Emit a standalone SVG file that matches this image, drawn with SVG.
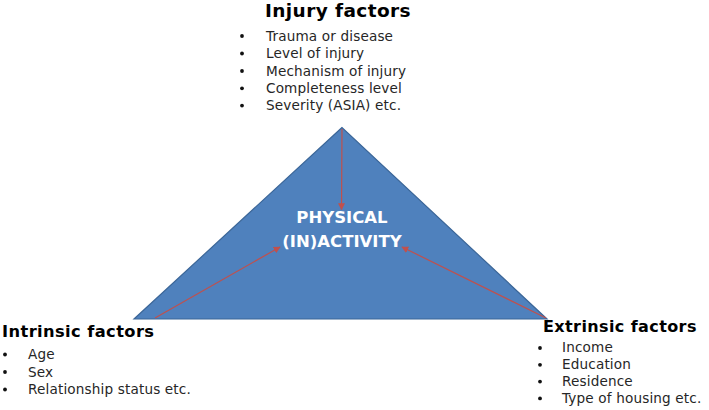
<svg xmlns="http://www.w3.org/2000/svg" width="709" height="410" viewBox="0 0 709 410">
<defs>
<marker id="ah" viewBox="0 0 10 10" refX="9" refY="5" markerWidth="7" markerHeight="7" markerUnits="userSpaceOnUse" orient="auto">
<path d="M0,0 L10,5 L0,10 z" fill="#C0504D"/>
</marker>
<style>
.title{font-family:"DejaVu Sans",sans-serif;font-weight:bold;fill:#000;letter-spacing:0.4px}
.item{font-family:"DejaVu Sans",sans-serif;font-size:13.6px;fill:#262626;letter-spacing:0.15px}
.center{font-family:"DejaVu Sans",sans-serif;font-weight:bold;font-size:16.5px;fill:#fff;text-anchor:middle}
.bul{fill:#111}
.conn{stroke:#C0504D;stroke-width:1.2;fill:none;marker-end:url(#ah)}
</style>
</defs>
<rect width="709" height="410" fill="#fff"/>
<g id="triangle">
<polygon points="342,127.5 134,319 547,319" fill="#4F81BD" stroke="#3B6698" stroke-width="1.2"/>
<text class="center" x="342" y="223">PHYSICAL</text>
<text class="center" x="342" y="247">(IN)ACTIVITY</text>
</g>
<g id="injury">
<text class="title" x="265" y="17" font-size="18.5">Injury factors</text>
<circle class="bul" cx="242" cy="36" r="1.9"/>
<circle class="bul" cx="242" cy="53.5" r="1.9"/>
<circle class="bul" cx="242" cy="71" r="1.9"/>
<circle class="bul" cx="242" cy="88.3" r="1.9"/>
<circle class="bul" cx="242" cy="105.6" r="1.9"/>
<text class="item" x="266" y="40.7">Trauma or disease</text>
<text class="item" x="266" y="58.2">Level of injury</text>
<text class="item" x="266" y="75.5">Mechanism of injury</text>
<text class="item" x="266" y="92.8">Completeness level</text>
<text class="item" x="266" y="110.1">Severity (ASIA) etc.</text>
</g>
<g id="intrinsic">
<text class="title" x="2" y="337" font-size="16.3">Intrinsic factors</text>
<circle class="bul" cx="5" cy="354.5" r="1.9"/>
<circle class="bul" cx="5" cy="372" r="1.9"/>
<circle class="bul" cx="5" cy="389.5" r="1.9"/>
<text class="item" x="28" y="359">Age</text>
<text class="item" x="28" y="376.5">Sex</text>
<text class="item" x="28" y="394">Relationship status etc.</text>
</g>
<g id="extrinsic">
<text class="title" x="543" y="332" font-size="16">Extrinsic factors</text>
<circle class="bul" cx="540" cy="348" r="1.9"/>
<circle class="bul" cx="540" cy="364.8" r="1.9"/>
<circle class="bul" cx="540" cy="381.6" r="1.9"/>
<circle class="bul" cx="540" cy="398.4" r="1.9"/>
<text class="item" x="562" y="352.3">Income</text>
<text class="item" x="562" y="369.1">Education</text>
<text class="item" x="562" y="385.9">Residence</text>
<text class="item" x="562" y="402.7">Type of housing etc.</text>
</g>
<g id="connectors">
<line class="conn" x1="342" y1="129" x2="341.5" y2="209.5"/>
<line class="conn" x1="155" y1="318" x2="280" y2="247"/>
<line class="conn" x1="546" y1="318" x2="402" y2="247"/>
</g>
</svg>
